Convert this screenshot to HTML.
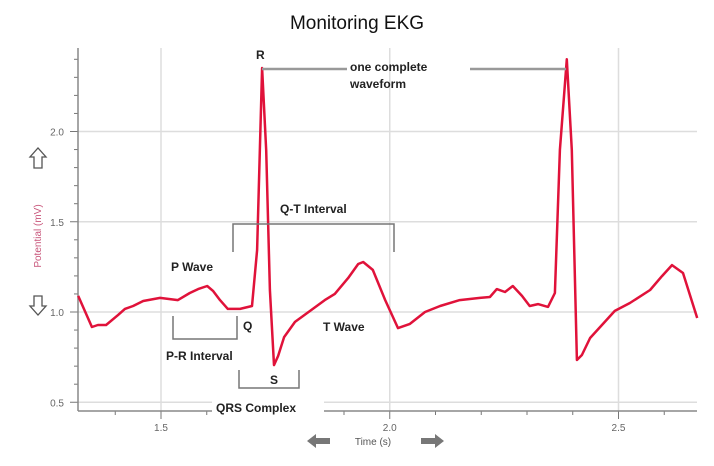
<!DOCTYPE html>
<html><head><meta charset="utf-8">
<style>
html,body{margin:0;padding:0;background:#fff;}
svg{display:block;font-family:"Liberation Sans",Arial,sans-serif;}
.ann{font-weight:bold;font-size:12px;fill:#222;}
</style></head>
<body>
<svg id="chart" width="714" height="466" viewBox="0 0 714 466">
<text x="357" y="29" text-anchor="middle" font-size="19" fill="#111">Monitoring EKG</text>
<g id="grid"></g>
<g id="axes"></g>
<g id="series"></g>
<g id="annotations">
  <text class="ann" x="256" y="59">R</text>
  <line x1="262" y1="69" x2="347" y2="69" stroke="#999" stroke-width="2.5"/>
  <line x1="470" y1="69" x2="566" y2="69" stroke="#999" stroke-width="2.5"/>
  <text class="ann" x="350" y="71">one complete</text>
  <text class="ann" x="350" y="88">waveform</text>
  <polyline points="233,252 233,224 394,224 394,252" fill="none" stroke="#777" stroke-width="1.5"/>
  <text class="ann" x="280" y="213">Q-T Interval</text>
  <text class="ann" x="171" y="271">P Wave</text>
  <polyline points="173,316 173,339 237,339 237,316" fill="none" stroke="#777" stroke-width="1.5"/>
  <text class="ann" x="166" y="360">P-R Interval</text>
  <text class="ann" x="243" y="330">Q</text>
  <text class="ann" x="323" y="331">T Wave</text>
  <polyline points="239,370 239,388 299,388 299,370" fill="none" stroke="#777" stroke-width="1.5"/>
  <text class="ann" x="270" y="384">S</text>
  <rect x="212" y="398" width="112" height="18" fill="#fff"/>
  <text class="ann" x="216" y="412">QRS Complex</text>
  <path d="M34,168 L34,157 L30,157 L38,148 L46,157 L42,157 L42,168 Z" fill="#fff" stroke="#555" stroke-width="1.3"/>
  <path d="M34,296 L34,306 L30,306 L38,315 L46,306 L42,306 L42,296 Z" fill="#fff" stroke="#555" stroke-width="1.3"/>
  <text transform="translate(41,236) rotate(-90)" text-anchor="middle" font-size="10" fill="#c8557a">Potential (mV)</text>
  <path d="M307,441 L316,434 L316,438 L330,438 L330,444 L316,444 L316,448 Z" fill="#777"/>
  <path d="M444,441 L435,434 L435,438 L421,438 L421,444 L435,444 L435,448 Z" fill="#777"/>
  <text x="373" y="445" text-anchor="middle" font-size="10" fill="#555">Time (s)</text>
</g>
</svg>
<script>
const times = [1.319,1.349,1.362,1.380,1.406,1.421,1.439,1.461,1.498,1.537,1.563,1.581,1.601,1.614,1.629,1.646,1.673,1.699,1.710,1.721,1.730,1.738,1.747,1.756,1.769,1.793,1.826,1.858,1.880,1.909,1.931,1.942,1.963,1.990,2.018,2.044,2.077,2.110,2.153,2.197,2.219,2.234,2.252,2.269,2.289,2.306,2.324,2.346,2.361,2.372,2.387,2.398,2.409,2.420,2.438,2.470,2.492,2.525,2.569,2.595,2.617,2.641,2.672];
const potentials = [1.089,0.917,0.928,0.928,0.983,1.017,1.033,1.061,1.078,1.066,1.105,1.127,1.144,1.116,1.066,1.017,1.017,1.033,1.343,2.352,1.895,1.122,0.706,0.756,0.861,0.945,1.006,1.066,1.100,1.188,1.266,1.277,1.233,1.066,0.911,0.934,1.000,1.033,1.066,1.078,1.083,1.127,1.111,1.144,1.089,1.033,1.044,1.028,1.105,1.898,2.400,1.898,0.734,0.762,0.856,0.945,1.006,1.050,1.122,1.199,1.260,1.216,0.967];
const xTicks = [1.5,2.0,2.5];
const xTickLabels = ["1.5","2.0","2.5"];
const yTicks = [0.5,1.0,1.5,2.0];
const yTickLabels = ["0.5","1.0","1.5","2.0"];

const X0=78, X1=697, Y0=48, Y1=411;
function xs(t){ return 161 + (t-1.5)*457.5; }
function ys(v){ return 312 - (v-1.0)*180.5; }
const NS="http://www.w3.org/2000/svg";
function mk(tag, attrs, parent){ const e=document.createElementNS(NS,tag); for(const k in attrs) e.setAttribute(k,attrs[k]); parent.appendChild(e); return e; }
const grid=document.getElementById('grid'), axes=document.getElementById('axes'), series=document.getElementById('series');

yTicks.forEach((v,i)=>{
  const gl=mk('line',{x1:X0,x2:X1,y1:ys(v),y2:ys(v),stroke:'#ddd','stroke-width':1.5},grid);
  
  
  const t=mk('text',{x:X0-14,y:ys(v)+4,'text-anchor':'end','font-size':10,fill:'#666'},axes);
  t.textContent=yTickLabels[i];
  
  
});
xTicks.forEach((v,i)=>{
  const gl=mk('line',{x1:xs(v),x2:xs(v),y1:Y0,y2:Y1,stroke:'#ddd','stroke-width':1.5},grid);
  
  
  const t=mk('text',{x:xs(v),y:Y1+20,'text-anchor':'middle','font-size':10,fill:'#666'},axes);
  t.textContent=xTickLabels[i];
  
  
});
for(let k=5;k<=24;k++){
  const v=k/10, y=ys(v); if(y<Y0||y>Y1) continue;
  const major = k%5===0;
  const tk=mk('line',{x1:X0-(major?8:4),x2:X0,y1:y,y2:y,stroke:'#777','stroke-width':1},axes);
  
  
}
for(let k=14;k<=26;k++){
  const x=xs(k/10); if(x<X0||x>X1) continue;
  const major = k%5===0;
  const tk=mk('line',{x1:x,x2:x,y1:Y1,y2:Y1+(major?8:4),stroke:'#777','stroke-width':1},axes);
  
  
}
const ya=mk('line',{x1:X0,x2:X0,y1:Y0,y2:Y1,stroke:'#888','stroke-width':1.5},axes);


const xa=mk('line',{x1:X0,x2:X1,y1:Y1,y2:Y1,stroke:'#888','stroke-width':1.5},axes);



const pts=times.map((t,i)=>xs(t).toFixed(1)+','+ys(potentials[i]).toFixed(1)).join(' ');
const line=mk('polyline',{points:pts,fill:'none',stroke:'#e0123a','stroke-width':2.5,'stroke-linejoin':'round'},series);


// keep annotations on top
document.getElementById('chart').appendChild(document.getElementById('annotations'));
</script>
</body></html>
